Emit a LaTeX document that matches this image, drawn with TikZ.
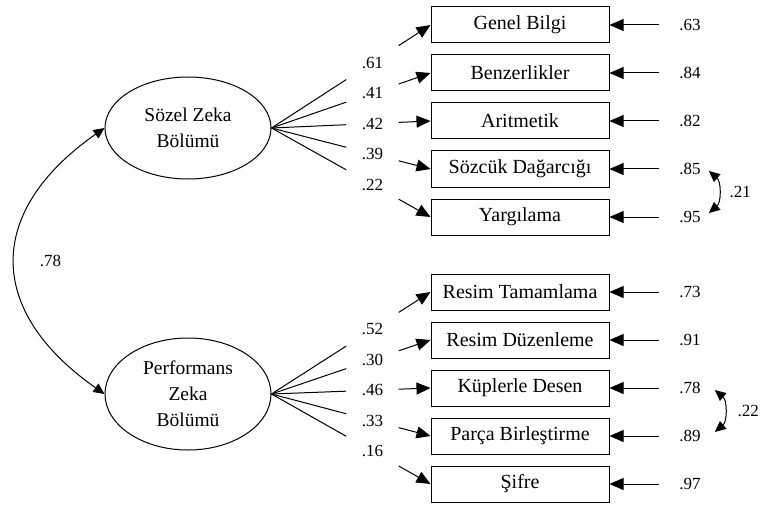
\documentclass[tikz,border=0pt]{standalone}
\usepackage{fontspec}
\setmainfont{Liberation Serif}
\usetikzlibrary{shapes.geometric, arrows.meta, calc}

\tikzset{
  faktor/.style={draw, ellipse, line width=1pt, minimum width=166pt, inner sep=0pt, align=center, font=\fontsize{19.5}{26}\selectfont},
  olcum/.style={draw, line width=1pt, minimum width=178pt, minimum height=36pt, inner sep=0pt, font=\fontsize{20}{22}\selectfont},
  deger/.style={inner sep=2pt, font=\fontsize{17}{20}\selectfont},
  ok/.style={-{Triangle[length=14pt,width=12pt]}, line width=1pt},
  cift/.style={{Triangle[length=11pt,width=10pt]}-{Triangle[length=11pt,width=10pt]}, line width=1pt},
}

\begin{document}
\begin{tikzpicture}[x=1pt,y=1pt]
    \useasboundingbox (0,0) rectangle (762,-505);
    % Faktörler
    \node[faktor, minimum height=102pt] (sozel) at (188,-128) {Sözel Zeka\\Bölümü};
    \node[faktor, minimum height=112pt] (perf) at (188,-394) {Performans\\Zeka\\Bölümü};
    \draw[cift] (sozel.west) to[out=215,in=145,looseness=1.4] node[deger, midway, right=22pt] {.78} (perf.west);
    % Sözel alt testler
    \node[olcum] (genel) at (520,-25) {Genel Bilgi};
    \node[olcum] (benzer) at (520,-73) {Benzerlikler};
    \node[olcum] (arit) at (520,-121) {Aritmetik};
    \node[olcum] (sozcuk) at (520,-169) {Sözcük Dağarcığı};
    \node[olcum] (yargi) at (520,-217) {Yargılama};
    % Performans alt testler
    \node[olcum] (tamam) at (520,-292) {Resim Tamamlama};
    \node[olcum] (duzen) at (520,-340) {Resim Düzenleme};
    \node[olcum] (kup) at (520,-388) {Küplerle Desen};
    \node[olcum] (parca) at (520,-436) {Parça Birleştirme};
    \node[olcum] (sifre) at (520,-484) {Şifre};
    % Yükler
    \foreach \f/\b/\v in {sozel/genel/.61, sozel/benzer/.41, sozel/arit/.42, sozel/sozcuk/.39, sozel/yargi/.22,
                          perf/tamam/.52, perf/duzen/.30, perf/kup/.46, perf/parca/.33, perf/sifre/.16} {
        \draw[ok] (\f.east) -- ($(\f.east)!.47!(\b.west)$) ($(\f.east)!.8!(\b.west)$) -- (\b.west);
        \node[deger] at ($(\f.east)!.635!(\b.west)$) {\v};
    }
    % Hatalar
    \foreach \b/\v in {genel/.63, benzer/.84, arit/.82, sozcuk/.85, yargi/.95,
                       tamam/.73, duzen/.91, kup/.78, parca/.89, sifre/.97} {
        \node[deger] (h\b) at (690,0 |- \b) {\v};
        \draw[ok] ([xshift=-18pt]h\b.west) -- (\b.east);
    }
    % Hata kovaryansları
    \draw[cift] ([shift={(6,-2)}]hsozcuk.east) to[bend left=50] node[deger, midway, right=9pt] {.21} ([shift={(6,4)}]hyargi.east);
    \draw[cift] ([shift={(12,-2)}]hkup.east) to[bend left=50] node[deger, midway, right=11pt] {.22} ([shift={(12,4)}]hparca.east);
\end{tikzpicture}
\end{document}
